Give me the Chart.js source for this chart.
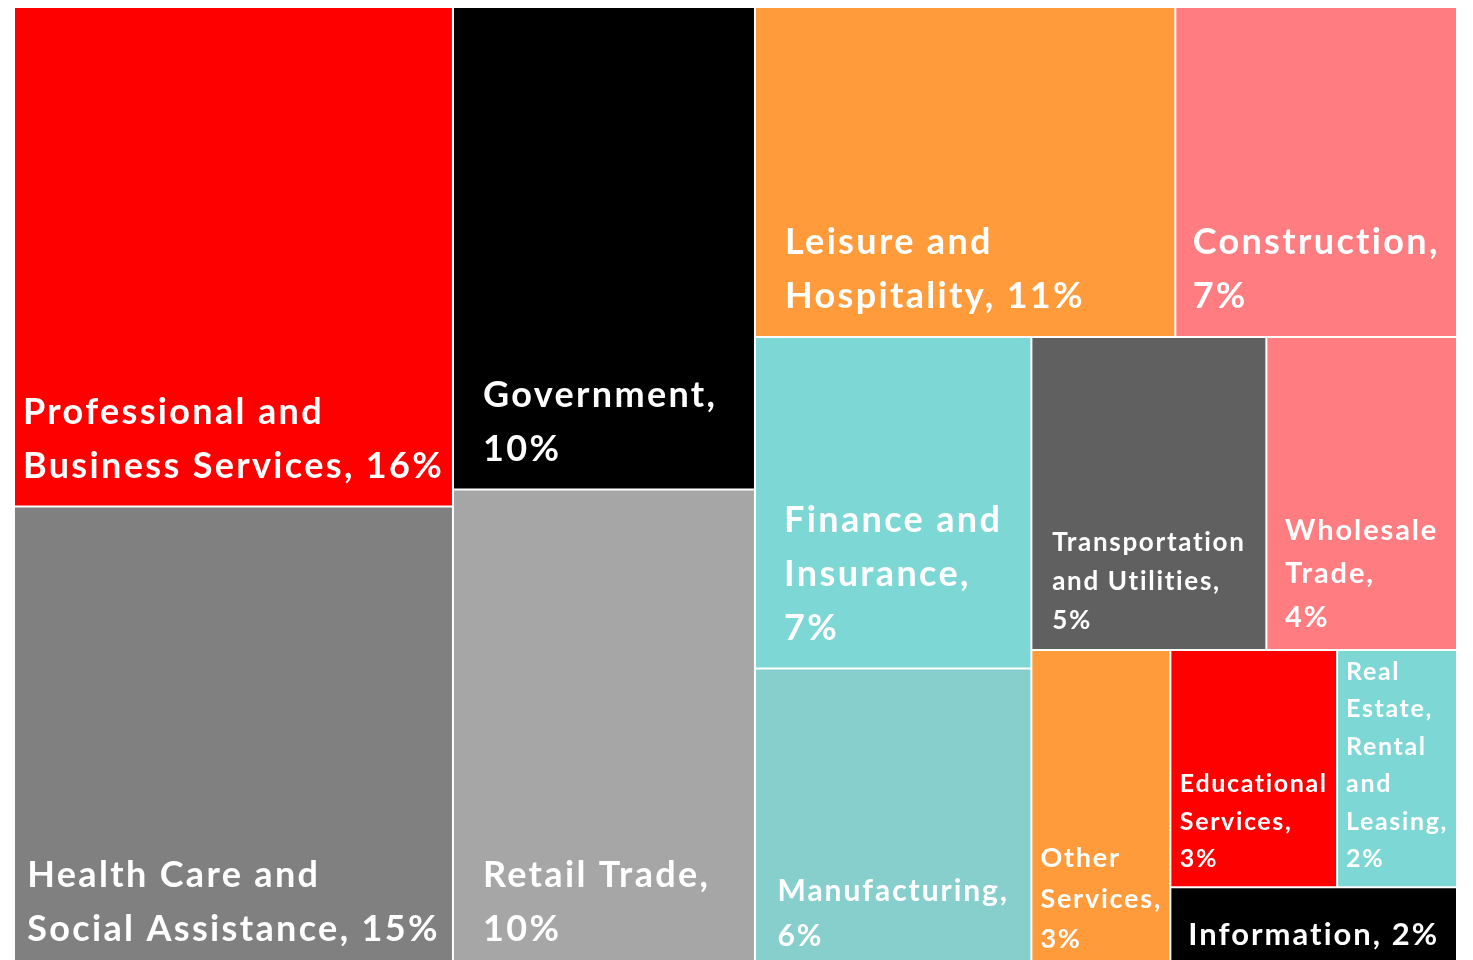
<!DOCTYPE html>
<html>
<head>
<meta charset="utf-8">
<title>Employment by industry</title>
<script src="https://cdn.jsdelivr.net/npm/chart.js@4.4.1/dist/chart.umd.min.js"></script>
<style>
    html, body { margin: 0; padding: 0; background: #ffffff; }
    #wrap { width: 1473px; height: 960px; position: relative; }
</style>
</head>
<body>
<div id="wrap"><canvas id="chart"></canvas></div>
<script>

const industries = [
    "Professional and Business Services",
    "Health Care and Social Assistance",
    "Government",
    "Retail Trade",
    "Leisure and Hospitality",
    "Construction",
    "Finance and Insurance",
    "Manufacturing",
    "Transportation and Utilities",
    "Wholesale Trade",
    "Other Services",
    "Educational Services",
    "Real Estate, Rental and Leasing",
    "Information"
];

// text on each tile, line by line as printed
const tileLabels = [
    ["Professional and", "Business Services, 16%"],
    ["Health Care and", "Social Assistance, 15%"],
    ["Government,", "10%"],
    ["Retail Trade,", "10%"],
    ["Leisure and", "Hospitality, 11%"],
    ["Construction,", "7%"],
    ["Finance and", "Insurance,", "7%"],
    ["Manufacturing,", "6%"],
    ["Transportation", "and Utilities,", "5%"],
    ["Wholesale", "Trade,", "4%"],
    ["Other", "Services,", "3%"],
    ["Educational", "Services,", "3%"],
    ["Real", "Estate,", "Rental", "and", "Leasing,", "2%"],
    ["Information, 2%"]
];

// tile area, share of total
const tileShare = [15.8, 14.65, 10.5, 10.45, 10.0, 6.7, 6.6, 6.0, 5.3, 4.3, 3.2, 2.85, 2.05, 1.7];

// number of tiles in each strip, laid along the shorter side
const stripSizes = [2, 2, 2, 2, 2, 1, 2, 1];

const tileColors = [
    "#ff0000", "#808080", "#000000", "#a6a6a6",
    "#ff9b3b", "#ff7c80", "#7dd8d5", "#87cfcc",
    "#606060", "#ff7c80", "#ff9b3b", "#ff0000",
    "#7dd8d5", "#000000"
];

const labelFontSize = [36, 36, 36, 36, 36, 36, 36, 30, 26, 29, 27, 25, 25, 31];


// strip layout in data units; aspect = pixels per x unit / pixels per y unit
function stripLayout(values, strips, aspect) {

    let rect = { x: 0, y: 0, w: 100, h: 100 };
    let remaining = values.reduce((a, b) => a + b, 0);
    const cells = [];
    let k = 0;

    strips.forEach(n => {

        const group = values.slice(k, k + n);
        const sum = group.reduce((a, b) => a + b, 0);
        const asColumn = rect.w * aspect >= rect.h;

        if (asColumn) {
            const w = rect.w * sum / remaining;
            let y = rect.y;
            group.forEach(v => {
                const h = rect.h * v / sum;
                cells.push({ x: rect.x, y, w, h });
                y += h;
            });
            rect = { x: rect.x + w, y: rect.y, w: rect.w - w, h: rect.h };
        } else {
            const h = rect.h * sum / remaining;
            let x = rect.x;
            group.forEach(v => {
                const w = rect.w * v / sum;
                cells.push({ x, y: rect.y, w, h });
                x += w;
            });
            rect = { x: rect.x, y: rect.y + h, w: rect.w, h: rect.h - h };
        }

        remaining -= sum;
        k += n;
    });

    return cells;
}


class TreemapController extends Chart.DatasetController {

    update(mode) {
        const meta = this._cachedMeta;
        this.updateElements(meta.data, 0, meta.data.length, mode);
    }

    updateElements(tiles, start, count, mode) {

        const meta = this._cachedMeta;
        const xScale = meta.xScale;
        const yScale = meta.yScale;

        const pxX = Math.abs(xScale.getPixelForValue(1) - xScale.getPixelForValue(0));
        const pxY = Math.abs(yScale.getPixelForValue(1) - yScale.getPixelForValue(0));

        const cells = stripLayout(this.getDataset().data, stripSizes, pxX / pxY);

        for (let i = start; i < start + count; i++) {

            const c = cells[i];
            const left = xScale.getPixelForValue(c.x);
            const right = xScale.getPixelForValue(c.x + c.w);
            const top = yScale.getPixelForValue(c.y);
            const bottom = yScale.getPixelForValue(c.y + c.h);

            this.updateElement(tiles[i], i, {
                x: (left + right) / 2,
                y: top,
                base: bottom,
                width: right - left,
                height: bottom - top,
                horizontal: false,
                borderSkipped: {},
                inflateAmount: 0,
                options: this.resolveDataElementOptions(i, mode)
            }, mode);
        }
    }

    draw() {

        super.draw();

        const ctx = this.chart.ctx;
        const meta = this._cachedMeta;

        meta.data.forEach((tile, i) => {

            const { x, base, width } = tile.getProps(["x", "base", "width"]);
            const lines = tileLabels[i];
            const size = labelFontSize[i];
            const lineHeight = size * 1.5;

            ctx.save();
            ctx.font = "bold " + size + "px Lato";
            ctx.letterSpacing = (size * 0.065).toFixed(2) + "px";
            ctx.fillStyle = "#ffffff";
            ctx.textAlign = "left";
            ctx.textBaseline = "alphabetic";

            const blockWidth = Math.max(...lines.map(l => ctx.measureText(l).width));
            const pad = Math.min(30, Math.max(9, (width - blockWidth) / 2));
            const left = x - width / 2 + pad;

            let baseline = base - size * 0.8 - (lines.length - 1) * lineHeight;

            lines.forEach(line => {
                ctx.fillText(line, left, baseline);
                baseline += lineHeight;
            });

            ctx.restore();
        });
    }
}

TreemapController.id = "treemapStrips";
TreemapController.defaults = {
    datasetElementType: false,
    dataElementType: "bar"
};
TreemapController.overrides = {
    scales: {
        x: { type: "linear" },
        y: { type: "linear" }
    }
};

Chart.register(TreemapController);


new Chart(
    document.getElementById("chart"),
    {
        type: "treemapStrips",

        data: {
            labels: industries,
            datasets: [
                {
                    label: "Share of employment",
                    data: tileShare,
                    backgroundColor: tileColors,
                    borderColor: "#ffffff",
                    borderWidth: 1,
                    borderRadius: 0
                }
            ]
        },

        options: {
            responsive: true,
            maintainAspectRatio: false,
            animation: false,
            events: [],
            layout: {
                padding: { left: 14, top: 7, right: 16, bottom: 0 }
            },
            scales: {
                x: { type: "linear", min: 0, max: 100, bounds: "data", display: false },
                // the picture is cut off just above the bottom of the map
                y: { type: "linear", min: 0, max: 99, bounds: "data", reverse: true, display: false }
            },
            plugins: {
                legend: { display: false },
                tooltip: { enabled: false }
            }
        }
    }
);

</script>
</body>
</html>
